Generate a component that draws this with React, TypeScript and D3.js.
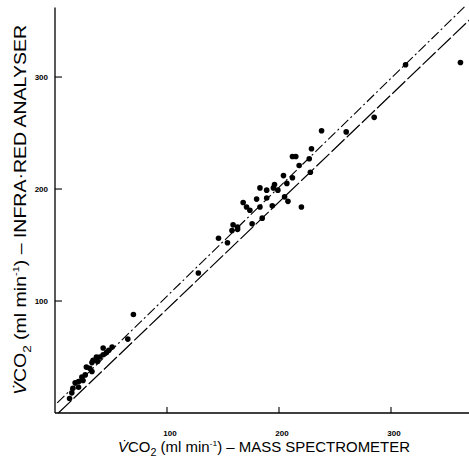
import React from "react";
import * as d3 from "d3";

// Data (ml/min): mass spectrometer (x) vs infra-red analyser (y)
const massSpec = [
  313, 362, 285, 238, 260,
  229, 215, 212, 227, 218, 228, 204, 212, 207, 196, 183, 189, 195, 199, 180,
  189, 205, 208, 220, 168, 171, 174, 183, 194, 185, 159, 163, 163, 158, 176,
  146, 154, 128, 70, 65,
  51, 48, 46, 43, 40, 37, 38, 34, 33, 31, 28, 33, 27, 24, 25, 21, 21, 18, 16, 15, 13, 43,
];
const infraRed = [
  311, 313, 264, 252, 251,
  236, 229, 229, 227, 221, 215, 212, 210, 205, 204, 201, 199, 201, 199, 191,
  192, 193, 189, 184, 188, 184, 181, 184, 185, 174, 168, 166, 164, 163, 169,
  156, 152, 125, 88, 66,
  59, 56, 54, 52, 50, 50, 46, 47, 45, 40, 41, 37, 34, 32, 29, 28, 23, 27, 22, 18, 13, 58,
];

// Two fitted lines (endpoints in data units)
const upperLineX = [2, 367];
const upperLineY = [9, 364];
const lowerLineX = [3, 370];
const lowerLineY = [0, 351];

const xTicks = [100, 200, 300];
const yTicks = [100, 200, 300];

export default function App() {
  const W = 469;
  const H = 463;
  const x = d3.scaleLinear().domain([0, 370]).range([55, 469.4]);
  const y = d3.scaleLinear().domain([0, 362]).range([413, 7.6]);

  const pts = massSpec.map((v, i) => [v, infraRed[i]] as [number, number]);
  const line = d3
    .line<[number, number]>()
    .x((d) => x(d[0]))
    .y((d) => y(d[1]));
  const upper = line(upperLineX.map((v, i) => [v, upperLineY[i]] as [number, number])) || "";
  const lower = line(lowerLineX.map((v, i) => [v, lowerLineY[i]] as [number, number])) || "";

  const x0 = x(0);
  const y0 = y(0);
  const tickFont = "'Liberation Sans', Arial, sans-serif";

  return (
    <svg
      width={W}
      height={H}
      viewBox={`0 0 ${W} ${H}`}
      style={{ position: "absolute", left: 0, top: 0, background: "#fff" }}
    >
      <rect x={0} y={0} width={W} height={H} fill="#fff" />
      {/* axes */}
      <line x1={x0} y1={y0} x2={469} y2={y0} stroke="#000" strokeWidth={1.3} />
      <line x1={x0} y1={y0} x2={x0} y2={y(362)} stroke="#000" strokeWidth={1.3} />
      {xTicks.map((t) => (
        <g key={"xt" + t}>
          <line x1={x(t)} x2={x(t)} y1={y0} y2={y0 - 6} stroke="#000" strokeWidth={1.1} />
          <text
            x={x(t) + 3}
            y={y0 + 23}
            textAnchor="middle"
            fontFamily={tickFont}
            fontWeight="bold"
            fontSize={8}
            fill="#000"
          >
            {t}
          </text>
        </g>
      ))}
      {yTicks.map((t) => (
        <g key={"yt" + t}>
          <line x1={x0} x2={x0 + 7} y1={y(t)} y2={y(t)} stroke="#000" strokeWidth={1.1} />
          <text
            x={x0 - 7}
            y={y(t) + 3}
            textAnchor="end"
            fontFamily={tickFont}
            fontWeight="bold"
            fontSize={8}
            fill="#000"
          >
            {t}
          </text>
        </g>
      ))}
      {/* lines */}
      <path d={upper} fill="none" stroke="#000" strokeWidth={1.1} strokeDasharray="10,3,2,3" />
      <path d={lower} fill="none" stroke="#000" strokeWidth={1.2} strokeDasharray="18,3" />
      {/* points */}
      {pts.map((p, i) => (
        <circle key={i} cx={x(p[0])} cy={y(p[1])} r={2.8} fill="#000" />
      ))}
      {/* x title */}
      <text
        x={118}
        y={452}
        fontFamily={tickFont}
        fontSize={14}
        fill="#000"
        textLength={292}
        lengthAdjust="spacingAndGlyphs"
      >
        <tspan fontStyle="italic">{"V\u0307"}</tspan>
        <tspan>CO</tspan>
        <tspan fontSize={10} dy={4}>2</tspan>
        <tspan dy={-4}>{" (ml min"}</tspan>
        <tspan fontSize={8} dy={-6}>{"-1"}</tspan>
        <tspan dy={6}>{") \u2013 MASS SPECTROMETER"}</tspan>
      </text>
      {/* y title */}
      <text
        transform="translate(26,395) rotate(-90)"
        x={0}
        y={0}
        fontFamily={tickFont}
        fontSize={16}
        fill="#000"
        textLength={370}
        lengthAdjust="spacingAndGlyphs"
      >
        <tspan fontStyle="italic">{"V\u0307"}</tspan>
        <tspan>CO</tspan>
        <tspan fontSize={11} dy={5}>2</tspan>
        <tspan dy={-5}>{" (ml min"}</tspan>
        <tspan fontSize={9} dy={-7}>{"-1"}</tspan>
        <tspan dy={7}>{") \u2013 INFRA\u00B7RED ANALYSER"}</tspan>
      </text>
    </svg>
  );
}
